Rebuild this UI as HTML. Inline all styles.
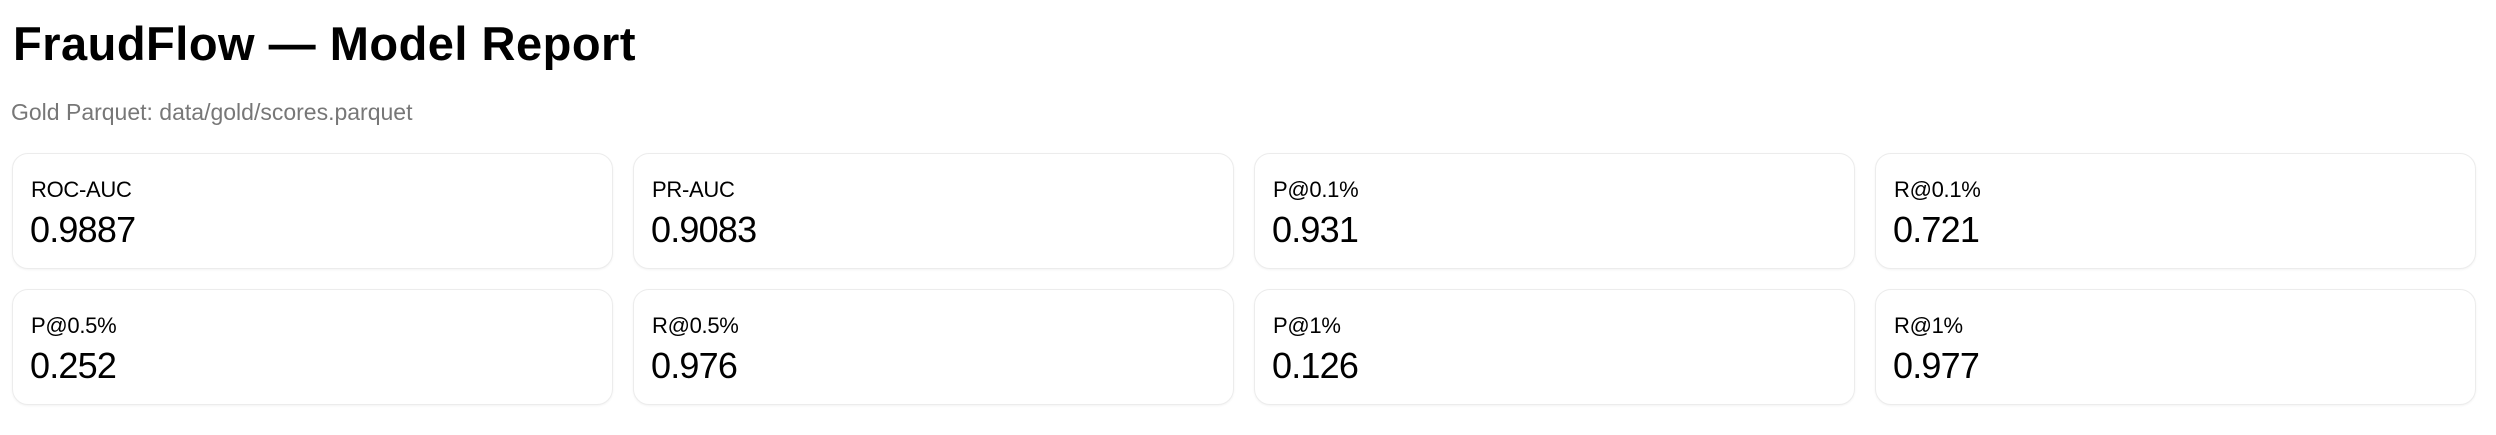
<!DOCTYPE html>
<html><head><meta charset="utf-8"><style>
html,body{margin:0;padding:0;background:#fff;width:2496px;height:435px;overflow:hidden;font-family:"Liberation Sans",sans-serif;color:#000}
h1{position:absolute;left:13px;top:17px;margin:0;font-size:47px;font-weight:bold;line-height:54px;letter-spacing:0.5px;white-space:nowrap}
.sub{position:absolute;left:11px;top:99px;font-size:23px;color:#777;line-height:26px;white-space:nowrap;letter-spacing:0}
.card{position:absolute;width:599px;height:114px;border:1px solid #ececec;border-radius:16px;box-shadow:0 1px 2px rgba(0,0,0,0.05);background:#fff}
.lbl{position:absolute;left:18px;top:24px;font-size:22px;line-height:24px;white-space:nowrap;letter-spacing:-0.3px}
.val{position:absolute;left:17px;top:56px;font-size:36px;line-height:40px;white-space:nowrap;letter-spacing:-0.8px}
</style></head><body>
<h1>FraudFlow — Model Report</h1>
<div class="sub">Gold Parquet: data/gold/scores.parquet</div>
<div class="card" style="left:12px;top:153px"><div class="lbl">ROC-AUC</div><div class="val">0.9887</div></div>
<div class="card" style="left:633px;top:153px"><div class="lbl">PR-AUC</div><div class="val">0.9083</div></div>
<div class="card" style="left:1254px;top:153px"><div class="lbl">P@0.1%</div><div class="val">0.931</div></div>
<div class="card" style="left:1875px;top:153px"><div class="lbl">R@0.1%</div><div class="val">0.721</div></div>
<div class="card" style="left:12px;top:289px"><div class="lbl">P@0.5%</div><div class="val">0.252</div></div>
<div class="card" style="left:633px;top:289px"><div class="lbl">R@0.5%</div><div class="val">0.976</div></div>
<div class="card" style="left:1254px;top:289px"><div class="lbl">P@1%</div><div class="val">0.126</div></div>
<div class="card" style="left:1875px;top:289px"><div class="lbl">R@1%</div><div class="val">0.977</div></div>
</body></html>
